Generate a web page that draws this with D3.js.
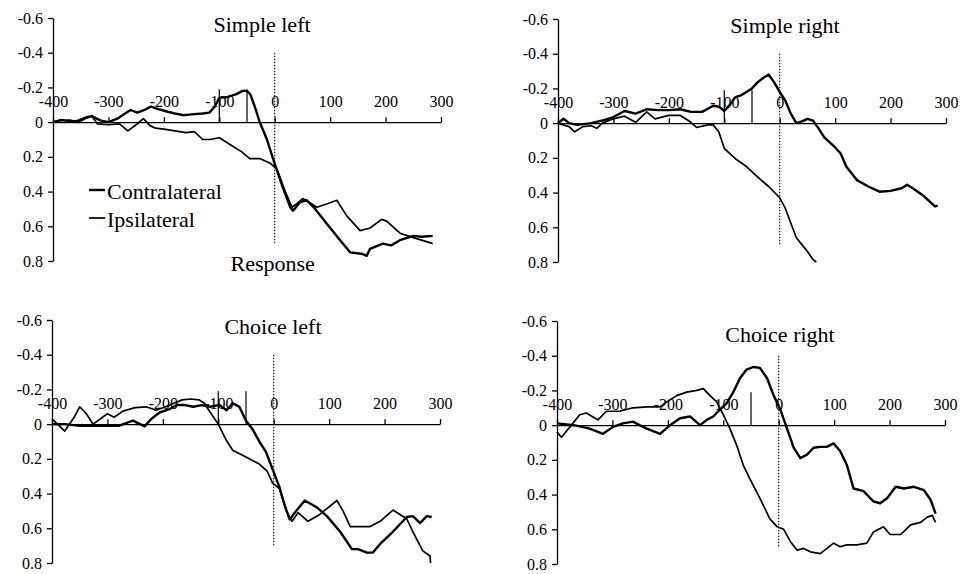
<!DOCTYPE html>
<html>
<head>
	<meta charset="UTF-8">
	<title>Lateralized readiness</title>
	<script src="https://cdn.jsdelivr.net/npm/d3@7"></script>
	<style>
		body { margin: 0; background: #fff; }
		svg text { font-family: "Liberation Serif", "Times New Roman", serif; fill: #000; }
	</style>
</head>
<body>
<div id="chart"></div>
<script type="text/javascript">
// ---- data: [time ms, amplitude] ----
var timeTicks = [-400, -300, -200, -100, 0, 100, 200, 300];
var ampTicks = [-0.6, -0.4, -0.2, 0, 0.2, 0.4, 0.6, 0.8];
var panelTitles = ["Simple left", "Simple right", "Choice left", "Choice right"];
var legendLabels = ["Contralateral", "Ipsilateral"];
var markerTimes = [[-100, -50], [-100, -50], [-100, -50], [-50]];
var markerTop = -0.19;
var zeroLine = [-0.4, 0.7];

var simpleLeftContra = [[-400,0],[-385,-0.01],[-370,-0.01],[-355,0],[-340,-0.025],[-330,-0.035],[-315,-0.01],[-300,0],[-284,-0.02],[-270,-0.05],[-260,-0.07],[-248,-0.055],[-235,-0.07],[-223,-0.09],[-210,-0.075],[-193,-0.06],[-180,-0.05],[-165,-0.04],[-150,-0.045],[-130,-0.05],[-118,-0.055],[-108,-0.09],[-100,-0.14],[-85,-0.145],[-70,-0.16],[-58,-0.18],[-50,-0.18],[-44,-0.16],[-36,-0.09],[-27,0],[-14,0.1],[0,0.24],[15,0.38],[28,0.49],[33,0.51],[46,0.46],[58,0.45],[73,0.5],[94,0.585],[118,0.68],[136,0.75],[159,0.76],[166,0.77],[172,0.73],[195,0.7],[210,0.71],[226,0.68],[250,0.655],[265,0.66],[285,0.655]];
var simpleLeftIpsi = [[-400,0],[-385,-0.015],[-370,0],[-355,-0.01],[-340,-0.03],[-330,-0.035],[-320,0.01],[-300,0.015],[-280,0.01],[-265,0.05],[-250,0.015],[-237,-0.02],[-225,0.02],[-215,0.035],[-200,0.04],[-180,0.05],[-160,0.06],[-145,0.055],[-130,0.1],[-117,0.1],[-100,0.09],[-85,0.12],[-75,0.14],[-60,0.17],[-45,0.21],[-27,0.21],[-9,0.235],[4,0.27],[19,0.4],[31,0.49],[40,0.47],[51,0.44],[76,0.49],[95,0.47],[112,0.45],[130,0.54],[154,0.625],[172,0.61],[193,0.56],[202,0.57],[226,0.64],[250,0.665],[265,0.68],[285,0.7]];

var simpleRightContra = [[-400,0],[-390,-0.025],[-380,0],[-365,0.01],[-340,0],[-320,-0.015],[-300,-0.035],[-280,-0.07],[-260,-0.055],[-240,-0.08],[-220,-0.075],[-200,-0.075],[-180,-0.08],[-160,-0.065],[-140,-0.065],[-120,-0.1],[-110,-0.095],[-100,-0.07],[-90,-0.105],[-80,-0.15],[-70,-0.16],[-60,-0.18],[-50,-0.2],[-40,-0.235],[-30,-0.26],[-20,-0.28],[-10,-0.235],[0,-0.18],[10,-0.13],[20,-0.055],[30,0],[40,-0.01],[50,-0.025],[60,-0.015],[70,0.03],[80,0.08],[100,0.14],[110,0.175],[120,0.25],[140,0.33],[160,0.365],[180,0.395],[200,0.39],[220,0.375],[230,0.355],[240,0.375],[260,0.42],[280,0.48],[285,0.475]];
var simpleRightIpsi = [[-400,0],[-380,0.02],[-370,0.05],[-355,0.02],[-340,0.015],[-330,0.03],[-320,0],[-300,-0.025],[-280,-0.04],[-260,-0.005],[-240,-0.065],[-225,-0.025],[-200,-0.045],[-180,-0.045],[-160,-0.005],[-150,0.025],[-130,0.01],[-120,0.01],[-110,0.05],[-100,0.145],[-90,0.175],[-80,0.205],[-60,0.25],[-40,0.31],[-20,0.365],[0,0.43],[10,0.49],[20,0.575],[30,0.66],[40,0.7],[50,0.74],[60,0.785],[66,0.8]];

var choiceLeftContra = [[-400,0],[-377,0],[-350,0.01],[-320,0.01],[-280,0.01],[-254,-0.02],[-233,0.013],[-221,-0.03],[-206,-0.067],[-188,-0.086],[-175,-0.11],[-160,-0.11],[-145,-0.1],[-130,-0.11],[-115,-0.1],[-98,-0.11],[-85,-0.08],[-74,-0.12],[-62,-0.1],[-50,-0.02],[-38,0.03],[-26,0.1],[-14,0.16],[-2,0.26],[10,0.36],[20,0.47],[29,0.55],[38,0.51],[56,0.44],[78,0.48],[96,0.53],[120,0.62],[141,0.72],[152,0.72],[168,0.74],[179,0.74],[192,0.69],[215,0.62],[240,0.535],[251,0.53],[264,0.57],[276,0.53],[285,0.535]];
var choiceLeftIpsi = [[-400,-0.03],[-390,0],[-377,0.04],[-360,-0.04],[-350,-0.1],[-338,-0.06],[-326,0],[-300,-0.06],[-288,-0.04],[-272,-0.075],[-250,-0.095],[-230,-0.1],[-212,-0.08],[-195,-0.1],[-180,-0.12],[-165,-0.14],[-150,-0.145],[-135,-0.14],[-125,-0.12],[-115,-0.07],[-100,0],[-86,0.09],[-74,0.15],[-50,0.19],[-26,0.23],[-12,0.27],[-2,0.34],[10,0.37],[24,0.51],[33,0.56],[44,0.51],[62,0.56],[83,0.52],[114,0.44],[125,0.5],[138,0.59],[156,0.59],[174,0.59],[192,0.56],[215,0.495],[240,0.545],[251,0.62],[269,0.73],[282,0.76],[283,0.8]];

var choiceRightContra = [[-400,-0.01],[-370,0],[-355,0.01],[-341,0.02],[-317,0.05],[-299,0.01],[-281,-0.01],[-263,-0.02],[-251,0],[-238,0.02],[-214,0.05],[-196,0],[-178,-0.04],[-160,-0.05],[-142,0],[-130,-0.03],[-118,-0.05],[-106,-0.09],[-94,-0.125],[-82,-0.19],[-70,-0.27],[-58,-0.32],[-46,-0.335],[-34,-0.33],[-21,-0.27],[-9,-0.17],[3,-0.09],[15,0.02],[27,0.13],[39,0.19],[51,0.17],[63,0.13],[75,0.125],[87,0.125],[99,0.105],[111,0.15],[123,0.23],[135,0.365],[153,0.38],[171,0.44],[183,0.45],[196,0.42],[211,0.355],[226,0.365],[244,0.355],[262,0.375],[274,0.43],[283,0.51]];
var choiceRightIpsi = [[-400,0.04],[-392,0.07],[-374,0],[-359,-0.06],[-347,-0.07],[-326,-0.03],[-311,-0.08],[-287,-0.08],[-263,-0.1],[-238,-0.105],[-214,-0.105],[-202,-0.134],[-184,-0.17],[-166,-0.19],[-148,-0.2],[-136,-0.21],[-124,-0.17],[-112,-0.134],[-100,-0.06],[-88,0.02],[-76,0.115],[-64,0.23],[-52,0.31],[-34,0.42],[-16,0.54],[-3,0.585],[9,0.6],[21,0.67],[33,0.72],[45,0.71],[57,0.73],[75,0.74],[87,0.71],[99,0.68],[111,0.7],[123,0.69],[141,0.69],[159,0.68],[171,0.615],[189,0.585],[201,0.63],[220,0.63],[238,0.575],[256,0.56],[268,0.53],[277,0.52],[283,0.56]];

var contraSeries = [simpleLeftContra, simpleRightContra, choiceLeftContra, choiceRightContra];
var ipsiSeries = [simpleLeftIpsi, simpleRightIpsi, choiceLeftIpsi, choiceRightIpsi];

// ---- layout ----
var width = 967, height = 574;
var panelW = 388, panelH = 243;
var panelLayout = [
	{left: 53,  top: 18,  titleX: 262, titleY: 32},
	{left: 558, top: 19,  titleX: 785, titleY: 33},
	{left: 52,  top: 320, titleX: 273, titleY: 334},
	{left: 557, top: 321, titleX: 780, titleY: 342}
];

var svg = d3.select("#chart").append("svg")
	.attr("width", width)
	.attr("height", height);

svg.append("rect")
	.attr("width", width)
	.attr("height", height)
	.attr("fill", "#fff");

function fmtAmp(v)
{
	return v === 0 ? "0" : v.toFixed(1);
}

panelLayout.forEach(function(p, i)
{
	var x = d3.scaleLinear().domain([-400, 300]).range([p.left, p.left + panelW]);
	var y = d3.scaleLinear().domain([-0.6, 0.8]).range([p.top, p.top + panelH]);
	var g = svg.append("g");

	// y axis
	var yAxis = g.append("g")
		.attr("transform", "translate(" + p.left + ",0)")
		.call(d3.axisLeft(y).tickValues(ampTicks).tickFormat(fmtAmp).tickSize(5).tickPadding(5).tickSizeOuter(0));
	yAxis.selectAll("text").style("font-size", "16px").style("font-family", "Liberation Serif");

	// x axis drawn through zero, plain hyphen for negatives
	var xAxis = g.append("g")
		.attr("transform", "translate(0," + y(0) + ")")
		.call(d3.axisTop(x).tickValues(timeTicks).tickFormat(function(d) { return String(d); }).tickSize(5).tickPadding(10).tickSizeOuter(0));
	xAxis.selectAll("text").style("font-size", "16px").style("font-family", "Liberation Serif");

	svg.selectAll(".domain, .tick line").attr("stroke", "#000").attr("stroke-width", 1.3);

	// response markers
	markerTimes[i].forEach(function(t)
	{
		g.append("line")
			.attr("x1", x(t)).attr("x2", x(t))
			.attr("y1", y(0)).attr("y2", y(markerTop))
			.attr("stroke", "#000")
			.attr("stroke-width", 1.2);
	});

	// dotted response line
	g.append("line")
		.attr("x1", x(0)).attr("x2", x(0))
		.attr("y1", y(zeroLine[0])).attr("y2", y(zeroLine[1]))
		.attr("stroke", "#000")
		.attr("stroke-width", 1.1)
		.attr("stroke-dasharray", "1.5,1.5");

	var line = d3.line()
		.x(function(d) { return x(d[0]); })
		.y(function(d) { return y(d[1]); });

	g.append("path")
		.datum(ipsiSeries[i])
		.attr("d", line)
		.attr("fill", "none")
		.attr("stroke", "#000")
		.attr("stroke-width", 1.7)
		.attr("stroke-linejoin", "round");

	g.append("path")
		.datum(contraSeries[i])
		.attr("d", line)
		.attr("fill", "none")
		.attr("stroke", "#000")
		.attr("stroke-width", 2.4)
		.attr("stroke-linejoin", "round");

	g.append("text")
		.attr("x", p.titleX)
		.attr("y", p.titleY)
		.attr("text-anchor", "middle")
		.style("font-size", "22px")
		.text(panelTitles[i]);

	if (i === 0)
	{
		// legend
		legendLabels.forEach(function(lab, k)
		{
			var ly = p.top + 172 + k * 28;
			g.append("line")
				.attr("x1", p.left + 36).attr("x2", p.left + 52)
				.attr("y1", ly).attr("y2", ly)
				.attr("stroke", "#000")
				.attr("stroke-width", k === 0 ? 2.4 : 1.7);
			g.append("text")
				.attr("x", p.left + 54)
				.attr("y", ly + 9)
				.style("font-size", "22px")
				.text(lab);
		});

		g.append("text")
			.attr("x", x(0) - 2)
			.attr("y", p.top + 253)
			.attr("text-anchor", "middle")
			.style("font-size", "22px")
			.text("Response");
	}
});
</script>
</body>
</html>
